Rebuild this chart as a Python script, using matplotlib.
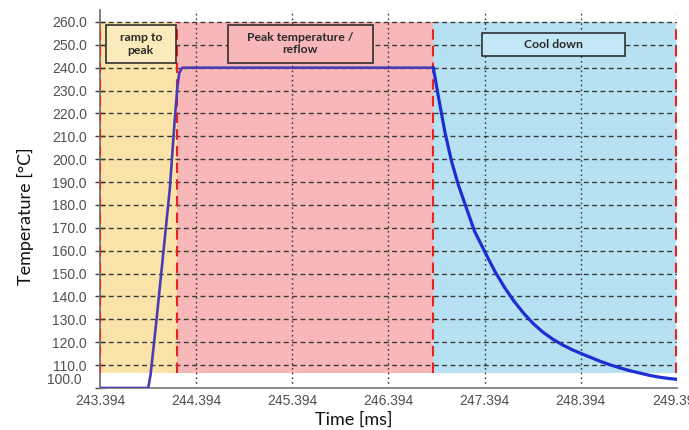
import matplotlib
matplotlib.use("Agg")
import matplotlib.pyplot as plt
from matplotlib.patches import Rectangle

# --- data ---
heat_time = [243.394, 243.896, 243.92, 243.98, 244.05, 244.12, 244.17, 244.20, 244.22, 244.25, 246.86]
heat_temp = [100.0, 100.0, 105.8, 129.0, 158.0, 187.0, 216.5, 232.0, 238.0, 240.0, 240.0]

cool_time = [246.86, 246.91, 246.98, 247.05, 247.12, 247.21, 247.29, 247.41, 247.50,
             247.60, 247.70, 247.80, 247.90, 248.00, 248.10, 248.20, 248.30, 248.40,
             248.50, 248.60, 248.70, 248.80, 248.90, 249.00, 249.10, 249.20, 249.30, 249.39]
cool_temp = [240.0, 228.0, 212.0, 199.0, 188.8, 177.9, 168.4, 158.3, 151.0,
             144.0, 137.9, 132.6, 128.1, 124.4, 121.4, 118.9, 116.8, 115.0,
             113.3, 111.6, 110.1, 108.8, 107.6, 106.6, 105.6, 104.8, 104.2, 103.8]

phase_edges = [243.394, 244.194, 246.855, 249.38]
phase_names = ["ramp to\npeak", "Peak temperature /\nreflow", "Cool down"]
phase_colors = ["#fae3a9", "#f8b7b9", "#b5e1f3"]
box_colors = ["#fbeabb", "#f8b7b9", "#c3e7f6"]

x_ticks = [243.394, 244.394, 245.394, 246.394, 247.394, 248.394, 249.394]
y_ticks = list(range(100, 261, 10))

shade_low, shade_high = 106.5, 260.0

fig = plt.figure(figsize=(6.89, 4.30), dpi=100)
ax = fig.add_axes([0.1451, 0.0977, 0.8375, 0.879])

for i in range(3):
    ax.fill_between([phase_edges[i], phase_edges[i + 1]], shade_low, shade_high,
                    color=phase_colors[i], lw=0, zorder=0.5)
for x in phase_edges:
    ax.plot([x, x], [shade_low, shade_high], color="#e8221c", lw=1.5,
            dashes=(5, 3), zorder=2.8)

ax.plot(heat_time, heat_temp, color="#4a3cb4", lw=1.9, zorder=3, solid_capstyle="butt")
ax.plot(cool_time, cool_temp, color="#1b2fd2", lw=2.3, zorder=3, solid_joinstyle="round")

ax.set_xlim(243.394, 249.394)
ax.set_ylim(100, 265.2)

# grid drawn over the coloured phases
for y in y_ticks[1:]:
    ax.axhline(y, color="#3a3a3a", lw=1.0, dashes=(3.5, 2.5), zorder=2.5)
for x in x_ticks[1:]:
    ax.axvline(x, color="#3a3a3a", lw=1.0, dashes=(1.2, 2.2), zorder=2.5)

ax.set_xticks(x_ticks)
ax.set_xticklabels([f"{t:.3f}" for t in x_ticks])
ax.set_yticks(y_ticks)
ax.set_yticklabels(["" if v == 100 else f"{v:.1f}" for v in y_ticks])
ax.annotate("100.0", xy=(0, 100), xycoords=("axes fraction", "data"),
            xytext=(-13, 5.5), textcoords="offset points", ha="right", va="center",
            fontsize=10, color="#505050", family="Liberation Sans")

for lab in ax.get_xticklabels() + ax.get_yticklabels():
    lab.set_family("Liberation Sans")
    lab.set_fontsize(10)
    lab.set_color("#505050")
ax.tick_params(axis="x", length=0, pad=4)
ax.tick_params(axis="y", direction="inout", length=7, width=1.0, color="#404040", pad=6)

for side in ["top", "right"]:
    ax.spines[side].set_visible(False)
ax.spines["left"].set_color("#6a6a6a")
ax.spines["bottom"].set_color("#8a8a8a")
ax.spines["left"].set_linewidth(1.2)
ax.spines["bottom"].set_linewidth(1.4)
ax.set_facecolor("white")

# phase label boxes (x0, x1, y0, y1 in data units)
boxes = [(243.456, 244.181, 242.1, 258.7),
         (244.725, 246.232, 242.2, 258.7),
         (247.362, 248.851, 245.2, 255.2)]
for (x0, x1, y0, y1), name, fc in zip(boxes, phase_names, box_colors):
    ax.add_patch(Rectangle((x0, y0), x1 - x0, y1 - y0, facecolor=fc,
                           edgecolor="#222222", lw=1.1, zorder=4))
    ax.text((x0 + x1) / 2, (y0 + y1) / 2, name, ha="center", va="center",
            fontsize=8.8, fontweight="bold", family="Lato", color="#2a2a2a",
            linespacing=1.15, zorder=5)

fig.text(0.037, 0.497, "Temperature [°C]", rotation=90, ha="center", va="center",
         fontsize=13, family="Lato", color="#111111")
fig.text(0.514, 0.023, "Time [ms]", ha="center", va="center",
         fontsize=13, family="Lato", color="#111111")

fig.savefig("out.png", dpi=100)
